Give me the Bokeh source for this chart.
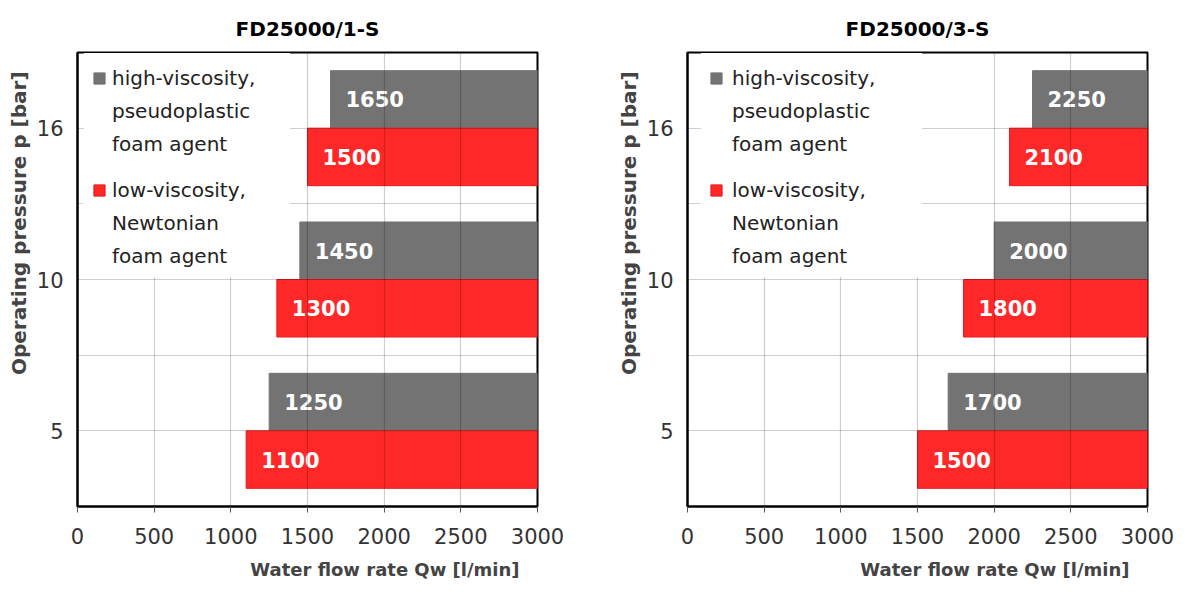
from bokeh.plotting import figure
from bokeh.models import ColumnDataSource, Range1d, FixedTicker, Legend, LegendItem, Title
from bokeh.transform import dodge
from bokeh.layouts import row
from bokeh.core.properties import value
from bokeh.embed import file_html
from bokeh.resources import INLINE

# ---------------- data ----------------
pressures = ["5", "10", "16"]                 # operating pressure [bar]
panel_titles = ["FD25000/1-S", "FD25000/3-S"]
high_visc_1s = [1250, 1450, 1650]             # high-viscosity, pseudoplastic foam agent
low_visc_1s = [1100, 1300, 1500]              # low-viscosity, Newtonian foam agent
high_visc_3s = [1700, 2000, 2250]
low_visc_3s = [1500, 1800, 2100]
x_ticks = [0, 500, 1000, 1500, 2000, 2500, 3000]
x_max = 3000
legend_high = ["high-viscosity,", "pseudoplastic", "foam agent"]
legend_low = ["low-viscosity,", "Newtonian", "foam agent"]
x_label = "Water flow rate Qw [l/min]"
y_label = "Operating pressure  p [bar]"

GRAY = "#737373"
RED = "#ff2828"
FONT = "DejaVu Sans"


def make_panel(title, high, low, width, b_left, b_right, dx1, dx2, leg_standoff, lw1, lw2):
    idx = list(range(len(pressures)))
    src = ColumnDataSource(dict(
        y=idx, high=high, low=low, right=[x_max] * len(idx),
        high_txt=[str(v) for v in high], low_txt=[str(v) for v in low]))

    p = figure(width=width, height=592, output_backend="svg", toolbar_location=None,
               x_range=Range1d(0, x_max), y_range=Range1d(-0.5, len(idx) - 0.5),
               title=title, min_border_left=b_left, min_border_right=b_right,
               min_border_top=52, min_border_bottom=86)
    p.background_fill_color = "white"
    p.border_fill_color = "white"
    p.outline_line_color = "black"
    p.outline_line_width = 2

    p.title.align = "center"
    p.title.text_font = FONT
    p.title.text_font_style = "bold"
    p.title.text_font_size = "20px"
    p.title.text_color = "black"
    p.title.standoff = 24

    # bars
    r_high = p.hbar(y=dodge("y", 0.19), left="high", right="right", height=0.38, source=src,
                    fill_color=GRAY, line_color=GRAY, line_width=1)
    r_low = p.hbar(y=dodge("y", -0.19), left="low", right="right", height=0.38, source=src,
                   fill_color=RED, line_color="#e81c1c", line_width=1)
    for col, off in (("high", 0.19), ("low", -0.19)):
        p.text(x=col, y=dodge("y", off), text=col + "_txt", source=src, x_offset=15,
               text_baseline="middle", text_align="left", text_color="white",
               text_font=value(FONT), text_font_style="bold", text_font_size="21px")

    # axes
    p.xaxis.ticker = FixedTicker(ticks=x_ticks)
    p.yaxis.ticker = FixedTicker(ticks=idx)
    p.yaxis.major_label_overrides = {i: s for i, s in enumerate(pressures)}
    for ax in (p.xaxis[0], p.yaxis[0]):
        ax.axis_line_color = "black"
        ax.axis_line_width = 2
        ax.major_label_text_font = FONT
        ax.major_label_text_font_size = "21px"
        ax.major_label_text_color = "#333333"
        ax.minor_tick_line_color = None
    p.xaxis.major_tick_out = 6
    p.xaxis.major_tick_in = 0
    p.xaxis.major_tick_line_color = "#555555"
    p.xaxis.major_label_standoff = 15
    p.yaxis.major_tick_out = 0
    p.yaxis.major_tick_in = 0
    p.yaxis.major_label_standoff = 14

    # grid (drawn over bars, semi-transparent)
    p.xgrid.ticker = FixedTicker(ticks=x_ticks)
    p.ygrid.ticker = FixedTicker(ticks=[i * 0.5 for i in range(2 * len(idx) - 1)])
    for g in (p.xgrid[0], p.ygrid[0]):
        g.grid_line_color = "black"
        g.grid_line_alpha = 0.19
        g.grid_line_width = 1.2
        g.level = "annotation"

    # axis titles
    p.add_layout(Title(text=x_label, align="right", offset=18, text_font=FONT,
                       text_font_style="bold", text_font_size="18px", standoff=21), "below")
    p.add_layout(Title(text=y_label, align="right", offset=12, text_font=FONT,
                       text_font_style="bold", text_font_size="20px", standoff=6), "left")

    # legends
    dummy = p.scatter(x=[], y=[], fill_alpha=0, line_alpha=0)
    common = dict(label_text_font=FONT, label_text_font_size="20px", label_text_color="#222222",
                  glyph_width=14, glyph_height=14, label_standoff=leg_standoff, margin=0,
                  border_line_color="white", border_line_width=1, border_line_alpha=1.0,
                  background_fill_color="white", background_fill_alpha=1.0)
    leg1 = Legend(items=[LegendItem(label=legend_high[0], renderers=[r_high]),
                         LegendItem(label=legend_high[1], renderers=[dummy]),
                         LegendItem(label=legend_high[2], renderers=[dummy]),
                         LegendItem(label=" ", renderers=[dummy])],
                  location=(dx1, 305), label_height=33, spacing=0, padding=7,
                  label_width=lw1, **common)
    leg2 = Legend(items=[LegendItem(label=legend_low[0], renderers=[r_low]),
                         LegendItem(label=legend_low[1], renderers=[dummy]),
                         LegendItem(label=legend_low[2], renderers=[dummy])],
                  location=(dx2, 229), label_height=24, spacing=9, padding=8,
                  label_width=lw2, **common)
    p.add_layout(leg1, "center")
    p.add_layout(leg2, "center")
    return p


p1 = make_panel(panel_titles[0], high_visc_1s, low_visc_1s, 610, 77, 73, 7, 6, 6, 170, 169)
p2 = make_panel(panel_titles[1], high_visc_3s, low_visc_3s, 575, 77, 38, 14, 13, 9, 182, 181)

layout = row(p1, p2)
open("out.html", "w").write(file_html(layout, INLINE))
